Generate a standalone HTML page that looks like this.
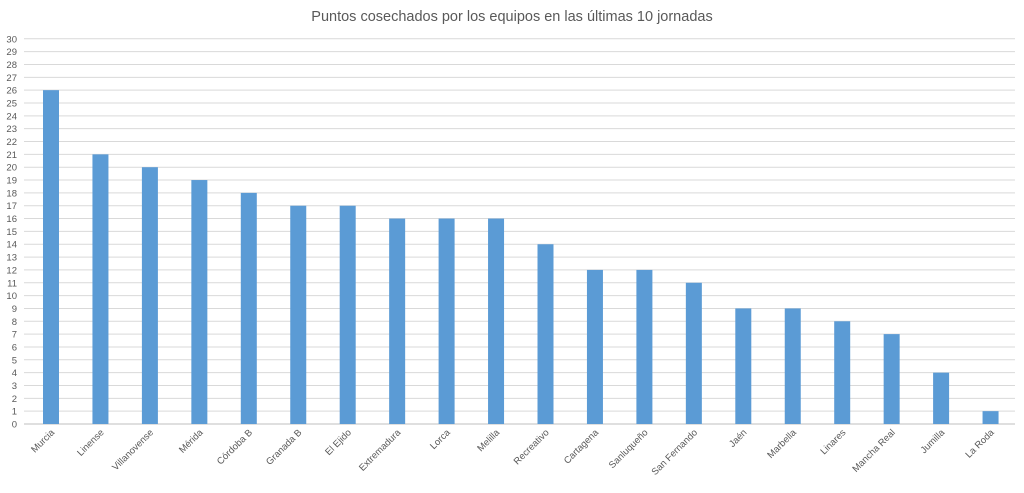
<!DOCTYPE html><html><head><style>body{margin:0;background:#fff}</style></head><body>
<svg width="1024" height="488" xmlns="http://www.w3.org/2000/svg" font-family="Liberation Sans, sans-serif">
<text x="512" y="21" text-anchor="middle" font-size="14.5" fill="#595959">Puntos cosechados por los equipos en las últimas 10 jornadas</text>
<g stroke="#d9d9d9" stroke-width="1">
<line x1="24" x2="1015" y1="411.16" y2="411.16"/><line x1="24" x2="1015" y1="398.32" y2="398.32"/><line x1="24" x2="1015" y1="385.48" y2="385.48"/><line x1="24" x2="1015" y1="372.64" y2="372.64"/><line x1="24" x2="1015" y1="359.8" y2="359.8"/><line x1="24" x2="1015" y1="346.96" y2="346.96"/><line x1="24" x2="1015" y1="334.12" y2="334.12"/><line x1="24" x2="1015" y1="321.28" y2="321.28"/><line x1="24" x2="1015" y1="308.44" y2="308.44"/><line x1="24" x2="1015" y1="295.6" y2="295.6"/><line x1="24" x2="1015" y1="282.76" y2="282.76"/><line x1="24" x2="1015" y1="269.92" y2="269.92"/><line x1="24" x2="1015" y1="257.08" y2="257.08"/><line x1="24" x2="1015" y1="244.24" y2="244.24"/><line x1="24" x2="1015" y1="231.4" y2="231.4"/><line x1="24" x2="1015" y1="218.56" y2="218.56"/><line x1="24" x2="1015" y1="205.72" y2="205.72"/><line x1="24" x2="1015" y1="192.88" y2="192.88"/><line x1="24" x2="1015" y1="180.04" y2="180.04"/><line x1="24" x2="1015" y1="167.2" y2="167.2"/><line x1="24" x2="1015" y1="154.36" y2="154.36"/><line x1="24" x2="1015" y1="141.52" y2="141.52"/><line x1="24" x2="1015" y1="128.68" y2="128.68"/><line x1="24" x2="1015" y1="115.84" y2="115.84"/><line x1="24" x2="1015" y1="103" y2="103"/><line x1="24" x2="1015" y1="90.16" y2="90.16"/><line x1="24" x2="1015" y1="77.32" y2="77.32"/><line x1="24" x2="1015" y1="64.48" y2="64.48"/><line x1="24" x2="1015" y1="51.64" y2="51.64"/><line x1="24" x2="1015" y1="38.8" y2="38.8"/>
</g>
<line x1="24" x2="1015" y1="424" y2="424" stroke="#bfbfbf"/>
<g font-size="9.5" fill="#595959" text-anchor="end">
<text x="17" y="427.5">0</text><text x="17" y="414.7">1</text><text x="17" y="401.8">2</text><text x="17" y="389">3</text><text x="17" y="376.1">4</text><text x="17" y="363.3">5</text><text x="17" y="350.5">6</text><text x="17" y="337.6">7</text><text x="17" y="324.8">8</text><text x="17" y="311.9">9</text><text x="17" y="299.1">10</text><text x="17" y="286.3">11</text><text x="17" y="273.4">12</text><text x="17" y="260.6">13</text><text x="17" y="247.7">14</text><text x="17" y="234.9">15</text><text x="17" y="222.1">16</text><text x="17" y="209.2">17</text><text x="17" y="196.4">18</text><text x="17" y="183.5">19</text><text x="17" y="170.7">20</text><text x="17" y="157.9">21</text><text x="17" y="145">22</text><text x="17" y="132.2">23</text><text x="17" y="119.3">24</text><text x="17" y="106.5">25</text><text x="17" y="93.7">26</text><text x="17" y="80.8">27</text><text x="17" y="68">28</text><text x="17" y="55.1">29</text><text x="17" y="42.3">30</text>
</g>
<g fill="#5b9bd5">
<rect x="43" y="90.16" width="16" height="333.84"/>
<rect x="92.45" y="154.36" width="16" height="269.64"/>
<rect x="141.9" y="167.2" width="16" height="256.8"/>
<rect x="191.35" y="180.04" width="16" height="243.96"/>
<rect x="240.8" y="192.88" width="16" height="231.12"/>
<rect x="290.25" y="205.72" width="16" height="218.28"/>
<rect x="339.7" y="205.72" width="16" height="218.28"/>
<rect x="389.15" y="218.56" width="16" height="205.44"/>
<rect x="438.6" y="218.56" width="16" height="205.44"/>
<rect x="488.05" y="218.56" width="16" height="205.44"/>
<rect x="537.5" y="244.24" width="16" height="179.76"/>
<rect x="586.95" y="269.92" width="16" height="154.08"/>
<rect x="636.4" y="269.92" width="16" height="154.08"/>
<rect x="685.85" y="282.76" width="16" height="141.24"/>
<rect x="735.3" y="308.44" width="16" height="115.56"/>
<rect x="784.75" y="308.44" width="16" height="115.56"/>
<rect x="834.2" y="321.28" width="16" height="102.72"/>
<rect x="883.65" y="334.12" width="16" height="89.88"/>
<rect x="933.1" y="372.64" width="16" height="51.36"/>
<rect x="982.55" y="411.16" width="16" height="12.84"/>
</g>
<g font-size="9.5" fill="#595959" text-anchor="end">
<text transform="translate(55,433) rotate(-45)">Murcia</text>
<text transform="translate(104.45,433) rotate(-45)">Linense</text>
<text transform="translate(153.9,433) rotate(-45)">Villanovense</text>
<text transform="translate(203.35,433) rotate(-45)">Mérida</text>
<text transform="translate(252.8,433) rotate(-45)">Córdoba B</text>
<text transform="translate(302.25,433) rotate(-45)">Granada B</text>
<text transform="translate(351.7,433) rotate(-45)">El Ejido</text>
<text transform="translate(401.15,433) rotate(-45)">Extremadura</text>
<text transform="translate(450.6,433) rotate(-45)">Lorca</text>
<text transform="translate(500.05,433) rotate(-45)">Melilla</text>
<text transform="translate(549.5,433) rotate(-45)">Recreativo</text>
<text transform="translate(598.95,433) rotate(-45)">Cartagena</text>
<text transform="translate(648.4,433) rotate(-45)">Sanluqueño</text>
<text transform="translate(697.85,433) rotate(-45)">San Fernando</text>
<text transform="translate(747.3,433) rotate(-45)">Jaén</text>
<text transform="translate(796.75,433) rotate(-45)">Marbella</text>
<text transform="translate(846.2,433) rotate(-45)">Linares</text>
<text transform="translate(895.65,433) rotate(-45)">Mancha Real</text>
<text transform="translate(945.1,433) rotate(-45)">Jumilla</text>
<text transform="translate(994.55,433) rotate(-45)">La Roda</text>
</g>
</svg></body></html>
